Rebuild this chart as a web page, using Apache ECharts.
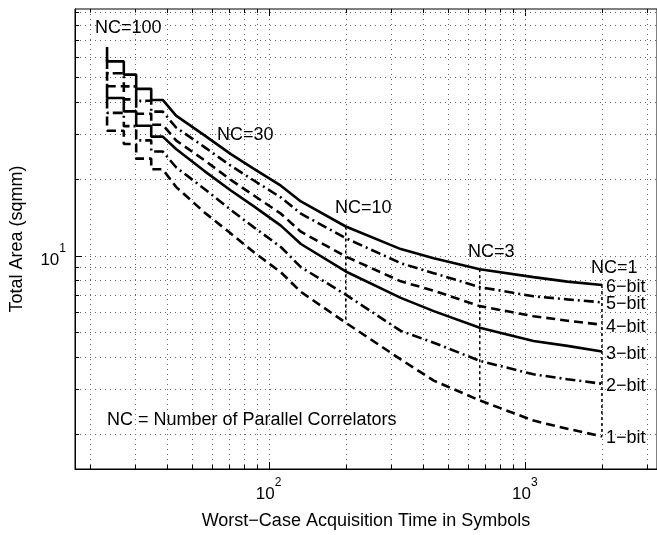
<!DOCTYPE html>
<html><head><meta charset="utf-8">
<script src="https://cdn.jsdelivr.net/npm/echarts@6/dist/echarts.min.js"></script>
<style>html,body{margin:0;padding:0;background:#fff}#c{width:657px;height:535px}</style>
</head><body><div id="c"></div>
<script>
// ---- data ----
const acqTime = [23.4, 23.4, 27.2, 27.2, 30.4, 30.4, 34.8, 34.8, 38.6, 43.5, 56.0, 71.2, 87.6, 111.6, 133.6, 200, 328, 441, 667, 1081, 1466, 2000];
const area6bit = [65.8, 57.8, 57.8, 51.3, 51.3, 45.1, 45.1, 40.8, 40.8, 35.4, 29.7, 25.0, 21.9, 18.8, 16.3, 13.0, 10.6, 9.76, 8.84, 8.23, 7.90, 7.66];
const area5bit = [59.1, 51.9, 51.9, 46.1, 46.1, 40.5, 40.5, 36.7, 36.7, 31.8, 26.7, 22.5, 19.7, 16.9, 14.6, 11.7, 9.33, 8.53, 7.52, 6.92, 6.73, 6.55];
const area4bit = [52.6, 46.2, 46.2, 41.0, 41.0, 36.0, 36.0, 32.6, 32.6, 28.3, 23.7, 19.8, 17.2, 14.6, 12.4, 9.91, 7.92, 7.28, 6.33, 5.78, 5.55, 5.35];
const area3bit = [47.2, 41.5, 41.5, 36.8, 36.8, 32.3, 32.3, 29.3, 29.3, 26.2, 21.5, 18.0, 15.6, 13.1, 11.1, 8.66, 6.82, 6.05, 5.21, 4.62, 4.42, 4.20];
const area2bit = [41.3, 36.3, 36.3, 32.2, 32.2, 28.3, 28.3, 25.6, 25.6, 22.2, 18.3, 15.1, 12.9, 10.8, 9.0, 7.02, 5.06, 4.55, 3.86, 3.42, 3.27, 3.14];
const area1bit = [35.1, 30.9, 30.9, 27.4, 27.4, 24.0, 24.0, 21.8, 21.8, 18.6, 14.8, 12.2, 10.3, 8.6, 7.2, 5.45, 3.91, 3.23, 2.70, 2.25, 2.09, 1.95];
const curveNames = ['6−bit', '5−bit', '4−bit', '3−bit', '2−bit', '1−bit'];
const ncLineTimes = [2000, 667, 200];
const ncLabels = ['NC=100', 'NC=30', 'NC=10', 'NC=3', 'NC=1'];
const xGridValues = [20, 30, 40, 50, 60, 70, 80, 90, 100, 200, 300, 400, 500, 600, 700, 800, 900, 1000, 2000, 3000];
const yGridValues = [2, 3, 4, 5, 6, 7, 8, 9, 10, 20, 30, 40, 50, 60, 70, 80, 90];
const xMajor = [100, 1000];
const yMajor = [10];

// ---- presentation ----
const FONT = '"Liberation Sans", Arial, Helvetica, sans-serif';
const curves = [area6bit, area5bit, area4bit, area3bit, area2bit, area1bit];
const dashSolid = 'solid', dashDot = [10, 4, 2, 4], dashed = [9, 5];
const curveStyles = [dashSolid, dashDot, dashed, dashSolid, dashDot, dashed];

const chart = echarts.init(document.getElementById('c'), null, {renderer: 'canvas'});

function expLabel(v) {
  const e = Math.round(Math.log10(v));
  return '{b|10}{s|' + e + '}';
}
const richLbl = {
  b: {fontSize: 17, fontFamily: FONT, color: '#000', lineHeight: 26, verticalAlign: 'bottom'},
  s: {fontSize: 12, fontFamily: FONT, color: '#000', lineHeight: 12, verticalAlign: 'top'}
};

function renderXGrid(params, api) {
  const cs = params.coordSys;
  const v = api.value(0);
  const x = Math.round(api.coord([v, 10])[0]) + 0.5;
  const len = xMajor.indexOf(v) >= 0 ? 7 : 4;
  const top = cs.y, bot = cs.y + cs.height;
  return {type: 'group', children: [
    {type: 'line', shape: {x1: x, y1: top, x2: x, y2: bot}, style: {stroke: '#666', lineWidth: 1, lineDash: [1, 4]}},
    {type: 'line', shape: {x1: x, y1: bot, x2: x, y2: bot - len}, style: {stroke: '#000', lineWidth: 1}},
    {type: 'line', shape: {x1: x, y1: top, x2: x, y2: top + len}, style: {stroke: '#000', lineWidth: 1}}
  ]};
}
function renderYGrid(params, api) {
  const cs = params.coordSys;
  const v = api.value(1);
  const y = Math.round(api.coord([100, v])[1]) + 0.5;
  const len = yMajor.indexOf(v) >= 0 ? 7 : 4;
  const left = cs.x, right = cs.x + cs.width;
  return {type: 'group', children: [
    {type: 'line', shape: {x1: left, y1: y, x2: right, y2: y}, style: {stroke: '#666', lineWidth: 1, lineDash: [1, 4]}},
    {type: 'line', shape: {x1: left, y1: y, x2: left + len, y2: y}, style: {stroke: '#000', lineWidth: 1}}
  ]};
}

const series = [];
series.push({type: 'custom', renderItem: renderXGrid, data: xGridValues.map(v => [v, 10]), encode: {x: 0, y: 1}, silent: true, z: 1, clip: false});
series.push({type: 'custom', renderItem: renderYGrid, data: yGridValues.map(v => [100, v]), encode: {x: 0, y: 1}, silent: true, z: 1, clip: false});

curves.forEach((arr, k) => {
  series.push({
    type: 'line', name: curveNames[k], showSymbol: false, silent: true, z: 4,
    data: acqTime.map((t, i) => [t, arr[i]]),
    lineStyle: {color: '#000', width: 2.6, type: curveStyles[k]},
    endLabel: {show: true, formatter: curveNames[k], color: '#000', fontSize: 18, fontFamily: FONT, distance: 4, offset: [0, 2]}
  });
});

ncLineTimes.forEach(t => {
  const i = acqTime.lastIndexOf(t);
  series.push({
    type: 'line', showSymbol: false, silent: true, z: 3,
    data: [[t, area6bit[i]], [t, area1bit[i]]],
    lineStyle: {color: '#000', width: 1.5, type: [3, 3]}
  });
});

const txt = (s, x, y) => ({type: 'text', x: x, y: y, silent: true, z: 10,
  style: {text: s, fontSize: 18, fontFamily: FONT, fill: '#000', verticalAlign: 'middle', align: 'left'}});

chart.setOption({
  animation: false,
  backgroundColor: '#fff',
  grid: {left: 74, top: 9, right: 0, bottom: 63, show: true, borderColor: '#000', borderWidth: 1},
  xAxis: {
    type: 'log', logBase: 10, min: 17.54, max: 3281,
    axisLine: {show: true, lineStyle: {color: '#000', width: 1}},
    axisTick: {show: false}, splitLine: {show: false},
    axisLabel: {showMinLabel: false, showMaxLabel: false, margin: 8, formatter: expLabel, rich: richLbl},
    name: 'Worst−Case Acquisition Time in Symbols', nameLocation: 'middle', nameGap: 43,
    nameTextStyle: {fontSize: 18, fontFamily: FONT, color: '#000'}
  },
  yAxis: {
    type: 'log', logBase: 10, min: 1.453, max: 92.8,
    axisLine: {show: true, lineStyle: {color: '#000', width: 1}},
    axisTick: {show: false}, splitLine: {show: false},
    axisLabel: {showMinLabel: false, showMaxLabel: false, margin: 9, formatter: expLabel, rich: richLbl},
    name: 'Total Area (sqmm)', nameLocation: 'middle', nameGap: 49,
    nameTextStyle: {fontSize: 18, fontFamily: FONT, color: '#000'}
  },
  series: series,
  graphic: [
    txt(ncLabels[0], 95, 28),
    txt(ncLabels[1], 217, 135),
    txt(ncLabels[2], 335, 208),
    txt(ncLabels[3], 468, 252),
    txt(ncLabels[4], 591, 268),
    txt('NC = Number of Parallel Correlators', 107, 420)
  ]
});
</script></body></html>
